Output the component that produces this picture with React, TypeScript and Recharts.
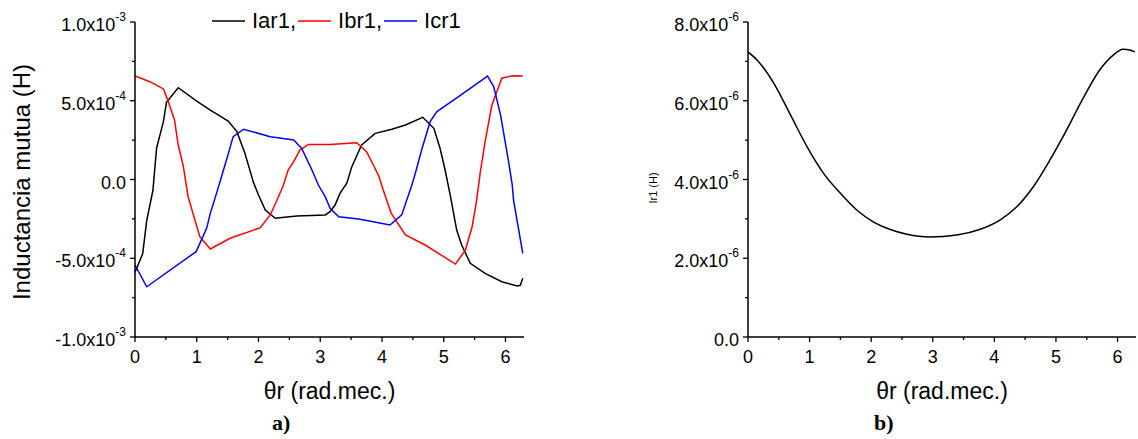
import { LineChart, Line, XAxis, YAxis, Legend } from "recharts";

const FONT = '"Liberation Sans", Arial, sans-serif';
const SERIF = '"Liberation Serif", "Times New Roman", serif';

// Mutual inductances vs rotor angle (rad mec.), values in 1e-4 H
const iarTheta = [0, 0.125, 0.19, 0.29, 0.35, 0.46, 0.51, 0.7, 1.0, 1.22, 1.51, 1.65, 1.78, 1.92, 2.0, 2.11, 2.27, 2.62, 3.08, 3.16, 3.24, 3.32, 3.43, 3.51, 3.67, 3.89, 4.16, 4.38, 4.66, 4.84, 4.94, 5.02, 5.11, 5.21, 5.29, 5.43, 5.67, 5.94, 6.19, 6.24, 6.28];
const iarValues = [-5.9, -4.7, -2.6, -0.7, 2.0, 3.67, 4.9, 5.83, 4.98, 4.41, 3.71, 3.04, 1.66, -0.2, -0.98, -1.94, -2.46, -2.32, -2.25, -2.04, -1.62, -0.88, -0.24, 0.8, 2.19, 2.93, 3.19, 3.46, 3.95, 3.25, 1.98, 0.65, -1.09, -3.21, -4.16, -5.32, -5.96, -6.49, -6.76, -6.72, -6.27];

const ibrTheta = [0, 0.24, 0.46, 0.54, 0.64, 0.7, 0.78, 0.86, 0.97, 1.05, 1.22, 1.54, 2.03, 2.19, 2.3, 2.4, 2.48, 2.57, 2.67, 2.81, 3.16, 3.59, 3.75, 3.86, 3.95, 4.02, 4.15, 4.38, 4.7, 5.19, 5.35, 5.46, 5.53, 5.59, 5.67, 5.78, 5.89, 5.94, 6.11, 6.28];
const ibrValues = [6.57, 6.21, 5.75, 4.94, 3.78, 2.19, 0.9, -1.09, -2.57, -3.63, -4.41, -3.73, -3.06, -2.25, -1.3, -0.4, 0.6, 1.13, 1.87, 2.23, 2.23, 2.34, 1.77, 0.92, 0.2, -0.67, -2.15, -3.52, -4.16, -5.37, -4.48, -3.0, -1.41, 0.4, 2.4, 4.73, 5.89, 6.43, 6.59, 6.57];

const icrTheta = [0, 0.19, 0.99, 1.16, 1.22, 1.32, 1.41, 1.49, 1.59, 1.76, 2.19, 2.57, 2.7, 2.86, 2.97, 3.08, 3.16, 3.3, 3.62, 4.13, 4.32, 4.48, 4.54, 4.65, 4.78, 4.89, 5.24, 5.71, 5.81, 5.92, 6.05, 6.11, 6.13, 6.28];
const icrValues = [-5.43, -6.81, -4.58, -3.1, -2.15, -0.88, 0.3, 1.35, 2.72, 3.19, 2.72, 2.51, 1.98, 0.65, -0.35, -1.09, -1.83, -2.36, -2.51, -2.89, -2.25, -0.4, 0.4, 1.98, 3.67, 4.31, 5.26, 6.57, 5.89, 4.1, 1.13, -0.35, -1.3, -4.69];

// Self inductance Ir1 vs rotor angle, values in 1e-6 H
const ir1Theta = [0, 0.15, 0.42, 0.69, 0.96, 1.23, 1.5, 1.77, 2.04, 2.31, 2.58, 2.95, 3.39, 3.76, 4.09, 4.36, 4.63, 4.9, 5.17, 5.44, 5.71, 5.93, 6.09, 6.2, 6.28];
const ir1Values = [7.24, 7.03, 6.44, 5.64, 4.83, 4.15, 3.65, 3.22, 2.92, 2.73, 2.61, 2.54, 2.59, 2.73, 2.97, 3.3, 3.81, 4.49, 5.25, 6.06, 6.78, 7.16, 7.31, 7.29, 7.24];

const thetaTicks = [0, 0.5, 1, 1.5, 2, 2.5, 3, 3.5, 4, 4.5, 5, 5.5, 6];

const mutualTicks = [-1e-3, -7.5e-4, -5e-4, -2.5e-4, 0, 2.5e-4, 5e-4, 7.5e-4, 1e-3];
const mutualTickLabels = [["-1.0x10", "-3"], null, ["-5.0x10", "-4"], null, ["0.0", ""], null, ["5.0x10", "-4"], null, ["1.0x10", "-3"]];

const selfTicks = [0, 1e-6, 2e-6, 3e-6, 4e-6, 5e-6, 6e-6, 7e-6, 8e-6];
const selfTickLabels = [["0.0", ""], null, ["2.0x10", "-6"], null, ["4.0x10", "-6"], null, ["6.0x10", "-6"], null, ["8.0x10", "-6"]];

const seriesColors: Record<string, string> = {
  Iar1: "#000000",
  Ibr1: "#ff0000",
  Icr1: "#0000ff",
};

const toPoints = (theta: number[], values: number[], scale: number) =>
  theta.map((t, i) => ({ theta: t, value: values[i] * scale }));

const iarData = toPoints(iarTheta, iarValues, 1e-4);
const ibrData = toPoints(ibrTheta, ibrValues, 1e-4);
const icrData = toPoints(icrTheta, icrValues, 1e-4);
const ir1Data = toPoints(ir1Theta, ir1Values, 1e-6);

const ThetaTick = ({ x, y, payload }: any) => {
  const major = Number.isInteger(payload.value);
  return (
    <g>
      <line x1={x} x2={x} y1={y} y2={y + (major ? 5 : 3)} stroke="#000" strokeWidth={1.3} />
      {major && (
        <text x={x} y={y + 26} textAnchor="middle" fontFamily={FONT} fontSize={18} fill="#000">
          {payload.value}
        </text>
      )}
    </g>
  );
};

const makeValueTick = (labels: (string[] | null)[]) => ({ x, y, index }: any) => {
  const label = labels[index];
  return (
    <g>
      <line x1={x - (label ? 5 : 3)} x2={x} y1={y} y2={y} stroke="#000" strokeWidth={1.3} />
      {label && (
        <text x={x - 9} y={y + 9} textAnchor="end" fontFamily={FONT} fontSize={18} fill="#000">
          {label[0]}
          {label[1] && (
            <tspan dy={-10} fontSize={12}>
              {label[1]}
            </tspan>
          )}
        </text>
      )}
    </g>
  );
};

const MutualTick = makeValueTick(mutualTickLabels);
const SelfTick = makeValueTick(selfTickLabels);

const thetaTitle = ({ viewBox }: any) => (
  <text
    x={viewBox.x + viewBox.width / 2}
    y={399}
    textAnchor="middle"
    fontFamily={FONT}
    fontSize={23}
    fill="#000"
  >
    θr (rad.mec.)
  </text>
);

const verticalTitle = (text: string, x: number, y: number, size: number) => () => (
  <text
    x={x}
    y={y}
    transform={`rotate(-90 ${x} ${y})`}
    textAnchor="middle"
    dominantBaseline="central"
    fontFamily={FONT}
    fontSize={size}
    fill="#000"
  >
    {text}
  </text>
);

const renderLegend = ({ payload }: any) => (
  <div style={{ display: "flex", alignItems: "center", fontFamily: FONT, fontSize: 22, lineHeight: "24px", color: "#000" }}>
    {(payload || []).map((entry: any, i: number) => (
      <span key={entry.value} style={{ display: "flex", alignItems: "center", whiteSpace: "nowrap" }}>
        <svg width={33} height={4} style={{ marginRight: 7, marginLeft: i ? 2 : 0 }}>
          <line x1={0} x2={33} y1={2} y2={2} stroke={seriesColors[entry.value]} strokeWidth={1.6} />
        </svg>
        <span>
          {entry.value}
          {i < payload.length - 1 ? "," : ""}
        </span>
      </span>
    ))}
  </div>
);

const caption = (text: string, left: number) => (
  <div
    style={{
      position: "absolute",
      left,
      top: 410,
      fontFamily: SERIF,
      fontWeight: "bold",
      fontSize: 22,
      lineHeight: "26px",
      color: "#000",
    }}
  >
    {text}
  </div>
);

export default function App() {
  return (
    <div style={{ position: "absolute", left: 0, top: 0, width: 1138, height: 439, background: "#fff" }}>
      <div style={{ position: "absolute", left: 0, top: 0 }}>
        <LineChart width={560} height={439} margin={{ top: 22, right: 36, bottom: 72, left: 55 }}>
          <XAxis
            type="number"
            dataKey="theta"
            domain={[0, 6.3]}
            ticks={thetaTicks}
            interval={0}
            height={30}
            tickSize={0}
            tickMargin={0}
            tick={<ThetaTick />}
            axisLine={{ stroke: "#000", strokeWidth: 1.5 }}
            label={{ content: thetaTitle }}
            allowDataOverflow
          />
          <YAxis
            type="number"
            dataKey="value"
            domain={[-1e-3, 1e-3]}
            ticks={mutualTicks}
            interval={0}
            width={80}
            tickSize={0}
            tickMargin={0}
            tick={<MutualTick />}
            axisLine={{ stroke: "#000", strokeWidth: 1.5 }}
            label={{ content: verticalTitle("Inductancia mutua (H)", 21, 182, 24) }}
            allowDataOverflow
          />
          <Legend
            layout="horizontal"
            verticalAlign="middle"
            align="center"
            content={renderLegend}
            wrapperStyle={{ left: 212, top: 9, width: "auto" }}
          />
          <Line data={iarData} dataKey="value" name="Iar1" type="linear" stroke={seriesColors.Iar1} strokeWidth={1.5} dot={false} isAnimationActive={false} />
          <Line data={ibrData} dataKey="value" name="Ibr1" type="linear" stroke={seriesColors.Ibr1} strokeWidth={1.5} dot={false} isAnimationActive={false} />
          <Line data={icrData} dataKey="value" name="Icr1" type="linear" stroke={seriesColors.Icr1} strokeWidth={1.5} dot={false} isAnimationActive={false} />
        </LineChart>
      </div>

      <div style={{ position: "absolute", left: 580, top: 0 }}>
        <LineChart width={558} height={439} margin={{ top: 22, right: 2, bottom: 72, left: 88 }}>
          <XAxis
            type="number"
            dataKey="theta"
            domain={[0, 6.3]}
            ticks={thetaTicks}
            interval={0}
            height={30}
            tickSize={0}
            tickMargin={0}
            tick={<ThetaTick />}
            axisLine={{ stroke: "#000", strokeWidth: 1.5 }}
            label={{ content: thetaTitle }}
            allowDataOverflow
          />
          <YAxis
            type="number"
            dataKey="value"
            domain={[0, 8e-6]}
            ticks={selfTicks}
            interval={0}
            width={80}
            tickSize={0}
            tickMargin={0}
            tick={<SelfTick />}
            axisLine={{ stroke: "#000", strokeWidth: 1.5 }}
            label={{ content: verticalTitle("Ir1 (H)", 73, 188, 11) }}
            allowDataOverflow
          />
          <Line data={ir1Data} dataKey="value" name="Ir1" type="monotone" stroke="#000000" strokeWidth={1.5} dot={false} isAnimationActive={false} />
        </LineChart>
      </div>

      {caption("a)", 272)}
      {caption("b)", 874)}
    </div>
  );
}
